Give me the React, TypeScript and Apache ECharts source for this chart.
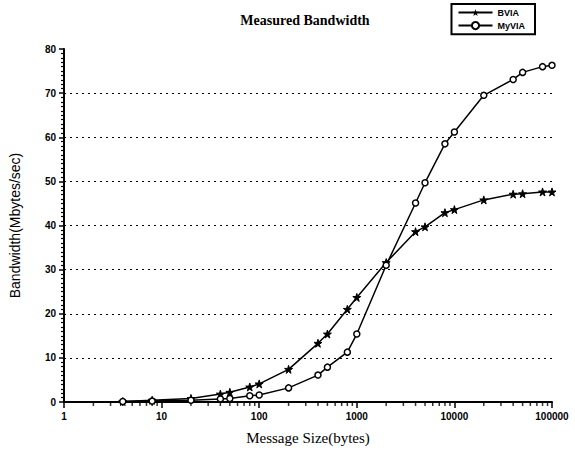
import React, { useEffect, useRef } from "react";
import * as echarts from "echarts";

const sizes = [4, 8, 20, 40, 50, 80, 100, 200, 400, 500, 800, 1000, 2000, 4000, 5000, 8000, 10000, 20000, 40000, 50000, 80000, 100000];
const bvia = [0.1, 0.4, 0.8, 1.8, 2.2, 3.4, 4.1, 7.4, 13.3, 15.4, 21.0, 23.7, 31.6, 38.6, 39.7, 42.9, 43.6, 45.8, 47.1, 47.2, 47.6, 47.6];
const myvia = [0.1, 0.2, 0.4, 0.7, 0.8, 1.4, 1.6, 3.2, 6.1, 7.9, 11.3, 15.4, 31.0, 45.1, 49.7, 58.5, 61.2, 69.5, 73.1, 74.7, 76.0, 76.3];
const seriesNames = ["BVIA", "MyVIA"];
const decades = [1, 10, 100, 1000, 10000];
const minorMult = [2, 3, 4, 5, 6, 7, 8, 9];

const STAR = "path://M50,0 L61,35 L98,35 L68,57 L79,91 L50,70 L21,91 L32,57 L2,35 L39,35 Z";

export default function App() {
  const ref = useRef<HTMLDivElement>(null);
  useEffect(() => {
    if (!ref.current) return;
    const chart = echarts.init(ref.current, null, { renderer: "svg" });
    const pair = (ys: number[]) => sizes.map((s, i) => [s, ys[i]]);
    const minorTicks: number[][] = [];
    decades.forEach((d) => minorMult.forEach((m) => minorTicks.push([d * m, 0])));
    chart.setOption({
      animation: false,
      backgroundColor: "#fff",
      title: {
        text: "Measured Bandwidth",
        left: 300,
        textAlign: "center",
        top: 8,
        textStyle: { fontFamily: "Liberation Serif", fontWeight: "bold", fontSize: 14, color: "#000" },
      },
      legend: {
        orient: "vertical",
        right: 40,
        top: 4,
        borderColor: "#000",
        borderWidth: 2,
        padding: [4, 10, 4, 6],
        itemGap: 4,
        itemWidth: 34,
        itemHeight: 9,
        textStyle: { fontFamily: "Liberation Sans", fontWeight: "bold", fontSize: 9, color: "#000" },
        data: seriesNames,
      },
      grid: { left: 64, right: 23, top: 49, bottom: 48 },
      xAxis: {
        type: "log",
        logBase: 10,
        min: 1,
        max: 100000,
        name: "Message Size(bytes)",
        nameLocation: "middle",
        nameGap: 28,
        nameTextStyle: { fontFamily: "Liberation Serif", fontSize: 15, color: "#000" },
        axisLine: { lineStyle: { color: "#000", width: 2 } },
        axisTick: { lineStyle: { color: "#000", width: 1.5 }, length: 6 },
        minorTick: { show: false },
        axisLabel: {
          fontFamily: "Liberation Sans",
          fontWeight: "bold",
          fontSize: 10,
          color: "#000",
          margin: 9,
          formatter: (v: number) => String(Math.round(v)),
        },
        splitLine: { show: false },
      },
      yAxis: {
        type: "value",
        min: 0,
        max: 80,
        interval: 10,
        name: "Bandwidth(Mbytes/sec)",
        nameLocation: "middle",
        nameGap: 42,
        nameTextStyle: { fontFamily: "Liberation Sans", fontSize: 14, color: "#000" },
        axisLine: { show: true, lineStyle: { color: "#000", width: 2 } },
        axisTick: { show: true, lineStyle: { color: "#000", width: 1.5 }, length: 5 },
        minorTick: { show: true, splitNumber: 10, length: 3, lineStyle: { color: "#000", width: 1.2 } },
        axisLabel: { fontFamily: "Liberation Sans", fontWeight: "bold", fontSize: 10, color: "#000", margin: 8 },
        splitLine: {
          show: true,
          showMinLine: false,
          showMaxLine: false,
          lineStyle: { color: "#000", type: [2, 4], width: 1 },
        },
      },
      series: [
        {
          name: "minorTicks",
          type: "scatter",
          data: minorTicks,
          symbol: "rect",
          symbolSize: [1.5, 4],
          symbolOffset: [0, 2],
          itemStyle: { color: "#000" },
          silent: true,
          clip: false,
          z: 1,
        },
        {
          name: seriesNames[0],
          type: "line",
          data: pair(bvia),
          symbol: STAR,
          symbolSize: 8,
          lineStyle: { color: "#000", width: 1.5 },
          itemStyle: { color: "#000", borderColor: "#000" },
        },
        {
          name: seriesNames[1],
          type: "line",
          data: pair(myvia),
          symbol: "circle",
          symbolSize: 6,
          lineStyle: { color: "#000", width: 1.5 },
          itemStyle: { color: "#fff", borderColor: "#000", borderWidth: 1.5 },
        },
      ],
    });
    return () => chart.dispose();
  }, []);
  return <div ref={ref} style={{ width: 575, height: 450, position: "absolute", left: 0, top: 0 }} />;
}
